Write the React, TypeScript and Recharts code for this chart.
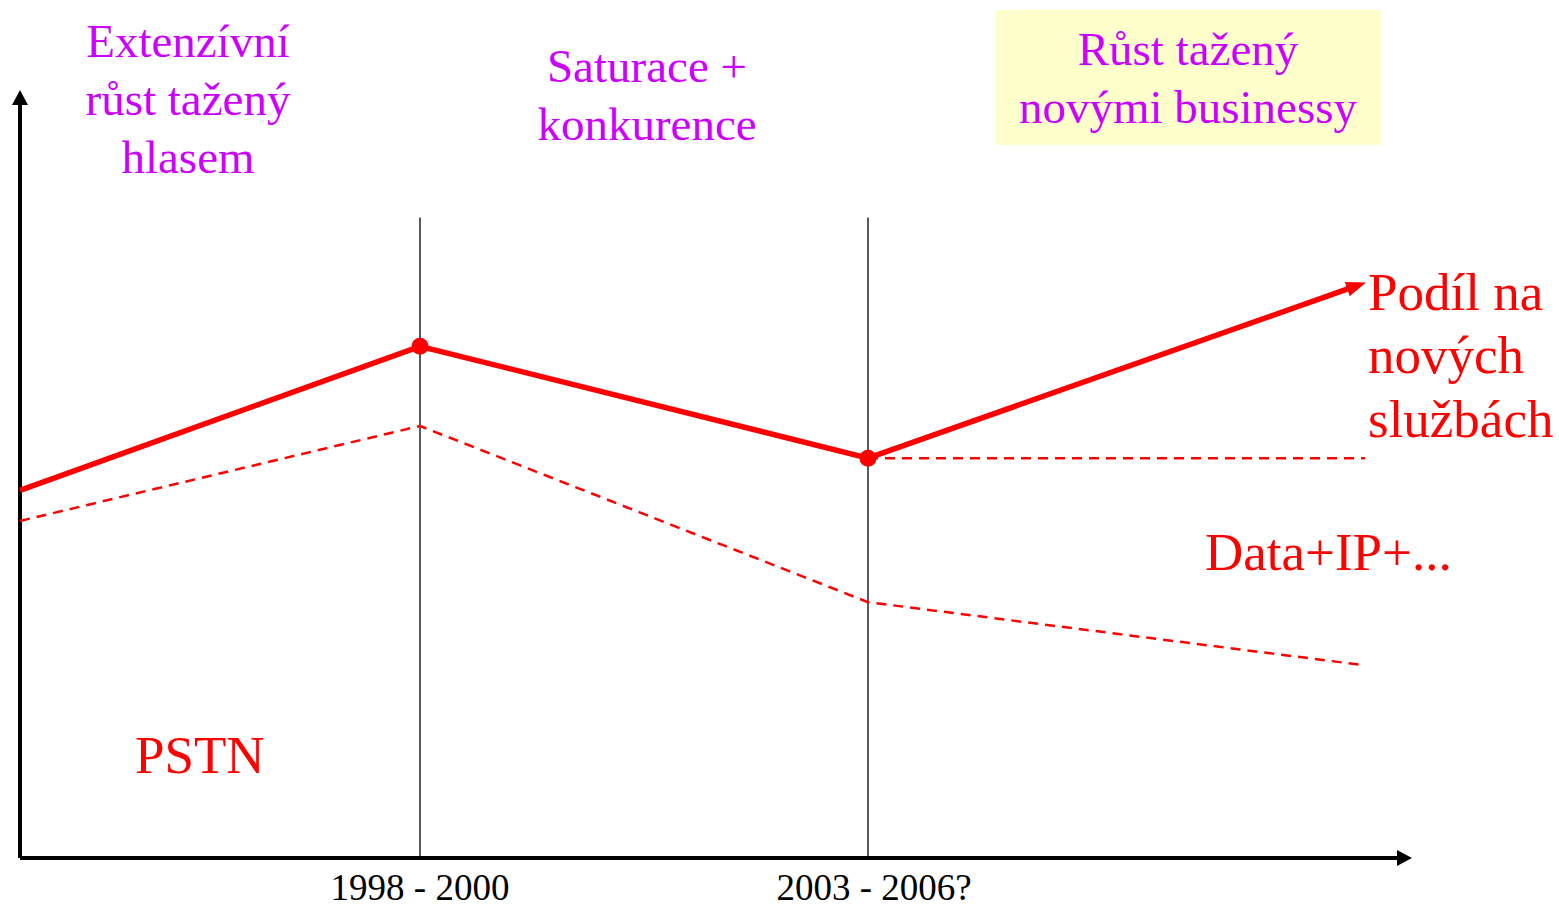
import React from 'react';
import {
  ComposedChart,
  Line,
  XAxis,
  YAxis,
  ReferenceLine,
} from 'recharts';

// period index (x) and share level (y)
const totalX = [0, 4, 8.48, 13.3];
const totalY = [48.0, 66.8, 52.2, 74.4];

const pstnX = [0, 4, 8.48, 13.42];
const pstnY = [44.0, 56.4, 33.4, 25.2];

const flatX = [8.48, 13.45];
const flatY = [52.2, 52.2];

const tickValues = [4, 8.48];
const tickLabels = ['1998 - 2000', '2003 - 2006?'];

const dividerX = [4, 8.48];
const dividerTop = 83.6;

const toRows = (xs: number[], ys: number[]) => xs.map((x, i) => ({ x, y: ys[i] }));

const totalData = toRows(totalX, totalY);
const pstnData = toRows(pstnX, pstnY);
const flatData = toRows(flatX, flatY);

const RED = '#FF0000';
const PURPLE = '#CC00FF';
const SERIF = '"Liberation Serif", "Times New Roman", serif';

const W = 1559;
const H = 909;

const TotalDot = (props: any) => {
  const { cx, cy, index } = props;
  if (index !== 1 && index !== 2) return <g key={`d${index}`} />;
  return <circle key={`d${index}`} cx={cx} cy={cy} r={8.5} fill={RED} />;
};

// the second label sits a little right of its divider in the original
const PeriodTick = (props: any) => {
  const { x, y, payload, index } = props;
  const shift = index === 1 ? 6 : 0;
  return (
    <text x={x + shift} y={y} dy="0.71em" textAnchor="middle" fill="#000" fontSize={37} fontFamily={SERIF}>
      {tickLabels[tickValues.indexOf(payload.value)] ?? ''}
    </text>
  );
};

const Markers = () => (
  <svg width={0} height={0} style={{ position: 'absolute' }}>
    <defs>
      <marker id="redArrow" markerWidth={22} markerHeight={16} refX={3} refY={7.5} orient="auto" markerUnits="userSpaceOnUse">
        <path d="M0,0 L20,7.5 L0,15 z" fill={RED} />
      </marker>
      <marker id="blackArrow" markerWidth={16} markerHeight={18} refX={2} refY={8} orient="auto" markerUnits="userSpaceOnUse">
        <path d="M0,0 L15,8 L0,16 z" fill="#000" />
      </marker>
    </defs>
  </svg>
);

const Annotations = () => {
  const title = { fontFamily: SERIF, fontSize: 47, fill: PURPLE, textAnchor: 'middle' as const };
  const red = { fontFamily: SERIF, fontSize: 53, fill: RED };
  return (
    <svg width={W} height={H} style={{ position: 'absolute', left: 0, top: 0, pointerEvents: 'none' }}>
      <text {...title} x={188} y={57}>Extenzívní</text>
      <text {...title} x={188} y={115}>růst tažený</text>
      <text {...title} x={188} y={173}>hlasem</text>

      <text {...title} x={647} y={82}>Saturace +</text>
      <text {...title} x={647} y={140}>konkurence</text>

      <rect x={996} y={10} width={385} height={135} fill="#FFFFCC" />
      <text {...title} x={1188} y={65}>Růst tažený</text>
      <text {...title} x={1188} y={123}>novými businessy</text>

      <text {...red} x={1368} y={310}>Podíl na</text>
      <text {...red} x={1368} y={373}>nových</text>
      <text {...red} x={1368} y={437}>službách</text>

      <text {...red} x={1205} y={570}>Data+IP+...</text>
      <text {...red} x={135} y={773}>PSTN</text>
    </svg>
  );
};

export default function App() {
  return (
    <div style={{ position: 'absolute', left: 0, top: 0, width: W, height: H, background: '#fff' }}>
      <Markers />
      <ComposedChart
        width={W}
        height={H}
        margin={{ top: 92, right: 149, left: 20, bottom: 21 }}
      >
        <XAxis
          dataKey="x"
          type="number"
          domain={[0, 13.9]}
          ticks={tickValues}
          axisLine={false}
          tickLine={false}
          tickSize={0}
          tickMargin={16}
          height={30}
          interval={0}
          tick={<PeriodTick />}
          allowDuplicatedCategory={false}
        />
        <YAxis type="number" domain={[0, 100]} hide />

        {dividerX.map((x) => (
          <ReferenceLine
            key={x}
            segment={[{ x, y: 0 }, { x, y: dividerTop }]}
            stroke="#000"
            strokeWidth={1.3}
            ifOverflow="visible"
          />
        ))}

        <ReferenceLine
          segment={[{ x: 0, y: 0 }, { x: 13.79, y: 0 }]}
          stroke="#000"
          strokeWidth={4}
          markerEnd="url(#blackArrow)"
          ifOverflow="visible"
        />
        <ReferenceLine
          segment={[{ x: 0, y: 0 }, { x: 0, y: 98.56 }]}
          stroke="#000"
          strokeWidth={4}
          markerEnd="url(#blackArrow)"
          ifOverflow="visible"
        />

        <Line
          data={pstnData}
          dataKey="y"
          type="linear"
          stroke={RED}
          strokeWidth={2.5}
          strokeDasharray="10 7"
          dot={false}
          activeDot={false}
          isAnimationActive={false}
        />
        <Line
          data={flatData}
          dataKey="y"
          type="linear"
          stroke={RED}
          strokeWidth={2.5}
          strokeDasharray="10 7"
          dot={false}
          activeDot={false}
          isAnimationActive={false}
        />
        <Line
          data={totalData}
          dataKey="y"
          type="linear"
          stroke={RED}
          strokeWidth={5.5}
          markerEnd="url(#redArrow)"
          dot={TotalDot}
          activeDot={false}
          isAnimationActive={false}
        />
      </ComposedChart>
      <Annotations />
    </div>
  );
}
